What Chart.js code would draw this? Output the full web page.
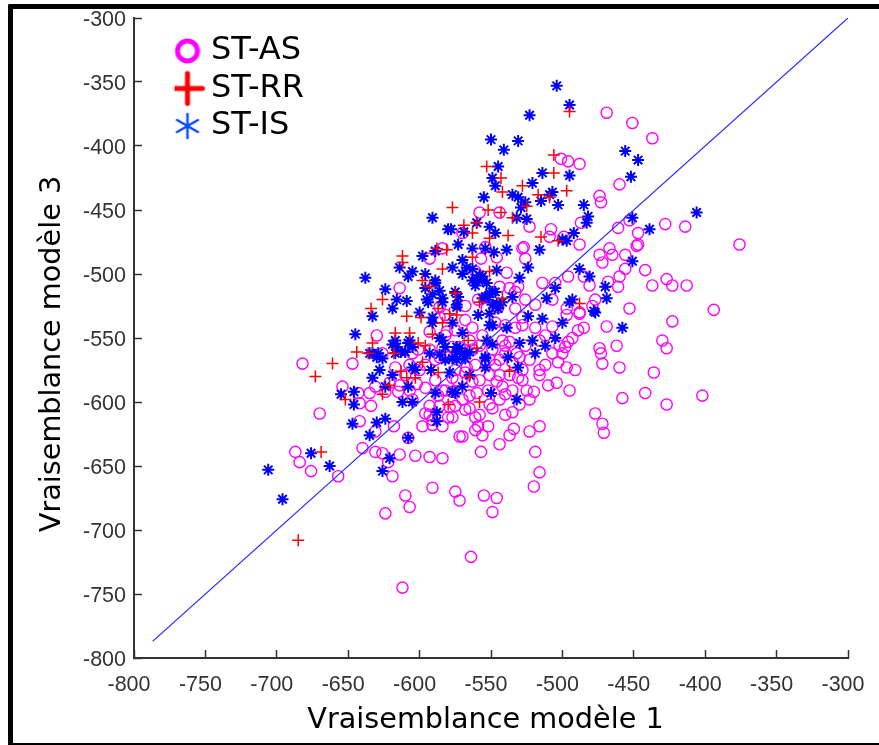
<!DOCTYPE html>
<html>
<head>
<meta charset="utf-8">
<title>Vraisemblance</title>
<script src="https://cdn.jsdelivr.net/npm/chart.js@4/dist/chart.umd.min.js"></script>
<style>
  html, body { margin: 0; padding: 0; background: #fff; }
  #frame {
    position: absolute; left: 8px; top: 4px; width: 871px; height: 741px;
    box-sizing: border-box; overflow: hidden;
    border-left: 5px solid #000; border-top: 5px solid #000; border-bottom: 2px solid #000;
    border-top-left-radius: 2px;
  }
  #chart { position: absolute; left: 0; top: 0; display: block; filter: blur(0.4px); }
</style>
</head>
<body>
<div id="frame"></div>
<canvas id="chart" width="879" height="745"></canvas>
<script>
"use strict";

/* ─── Data as [model 1, model 3] ────────────────────────────── */

const seriesNames = ["ST-AS", "ST-RR", "ST-IS"];
const xTitle = "Vraisemblance modèle 1";
const yTitle = "Vraisemblance modèle 3";
const diagonal = [[-787, -787], [-300, -300]];

const stAS = [
  [-469,-374],[-451,-382],[-437,-394],[-501,-410],[-496,-412],[-488,-414],[-460,-430],[-474,-439],
  [-473,-444],[-453,-458],[-461,-464],[-447,-468],[-447,-477],[-376,-477],[-394,-528],[-414,-463],
  [-428,-461],[-427,-504],[-423,-509],[-413,-509],[-437,-509],[-442,-497],[-423,-537],[-430,-552],
  [-427,-558],[-436,-577],[-442,-593],[-427,-602],[-402,-595],[-458,-597],[-477,-609],[-472,-617],
  [-471,-624],[-527,-479],[-526,-488],[-514,-507],[-496,-502],[-488,-477],[-474,-485],[-467,-480],
  [-465,-485],[-472,-491],[-456,-485],[-448,-478],[-456,-496],[-461,-510],[-460,-502],[-468,-506],
  [-481,-509],[-485,-502],[-453,-527],[-469,-541],[-485,-542],[-462,-556],[-474,-558],[-473,-562],
  [-472,-570],[-460,-573],[-491,-575],[-497,-573],[-503,-569],[-504,-585],[-495,-591],[-520,-592],
  [-516,-575],[-516,-579],[-496,-553],[-498,-557],[-500,-562],[-507,-562],[-519,-524],[-526,-520],
  [-533,-527],[-488,-531],[-497,-532],[-477,-520],[-479,-525],[-497,-527],[-488,-530],[-528,-534],
  [-507,-520],[-505,-507],[-647,-570],[-643,-593],[-635,-593],[-642,-601],[-634,-603],[-642,-615],
  [-624,-592],[-615,-592],[-605,-598],[-593,-603],[-584,-591],[-577,-592],[-574,-583],[-598,-619],
  [-591,-618],[-584,-619],[-593,-610],[-580,-612],[-572,-627],[-618,-619],[-640,-636],[-631,-639],
  [-626,-640],[-614,-641],[-603,-642],[-593,-643],[-584,-644],[-626,-562],[-570,-627],[-556,-626],
  [-552,-619],[-559,-619],[-544,-633],[-557,-639],[-537,-626],[-534,-621],[-523,-623],[-516,-619],
  [-519,-639],[-535,-608],[-549,-605],[-565,-605],[-561,-612],[-525,-591],[-528,-583],[-582,-591],
  [-577,-612],[-579,-604],[-567,-573],[-561,-571],[-577,-581],[-568,-577],[-563,-584],[-542,-588],
  [-546,-584],[-535,-591],[-552,-591],[-560,-593],[-528,-575],[-530,-565],[-544,-567],[-612,-745],
  [-564,-721],[-624,-687],[-610,-673],[-607,-682],[-591,-667],[-619,-658],[-622,-647],[-657,-658],
  [-676,-654],[-684,-647],[-687,-639],[-670,-609],[-631,-623],[-608,-628],[-596,-609],[-591,-614],
  [-682,-570],[-575,-670],[-572,-677],[-555,-673],[-546,-675],[-549,-686],[-516,-655],[-520,-666],
  [-614,-511],[-593,-488],[-584,-480],[-570,-468],[-558,-452],[-544,-452],[-523,-463],[-508,-465],
  [-509,-471],[-499,-471],[-487,-460],[-528,-480],[-546,-487],[-557,-488],[-554,-479],[-561,-498],
  [-539,-499],[-544,-510],[-537,-511],[-531,-510],[-568,-525],[-545,-526],[-553,-527],[-556,-548],
  [-547,-538],[-542,-552],[-537,-553],[-533,-542],[-519,-542],[-528,-540],[-516,-552],[-507,-541],
  [-582,-532],[-563,-542],[-572,-557],[-563,-559],[-584,-558],[-549,-559],[-540,-562],[-532,-562],
  [-586,-526],[-586,-534],[-581,-545],[-593,-545],[-605,-562],[-601,-559],[-577,-557],[-593,-559],
  [-586,-565],[-574,-561],[-630,-548],[-621,-585],[-631,-588],[-596,-589],[-581,-565],[-575,-575],
  [-654,-588],[-602,-586],[-610,-579],[-617,-573],[-596,-571],[-614,-587],[-589,-583],[-607,-591],
  [-565,-595],[-544,-598],[-558,-610],[-540,-610],[-530,-602],[-551,-579],[-537,-579],[-547,-571],
  [-568,-606],[-575,-603],[-586,-603],[-587,-595],[-582,-548],[-575,-544],[-565,-552],[-558,-556],
  [-551,-567],[-540,-556],[-535,-569],[-526,-556],[-523,-567],[-512,-548],[-544,-579],[-558,-583],
  [-570,-598],[-551,-602],[-540,-594],[-531,-581],[-523,-598],[-561,-622],[-512,-571],[-510,-587],
  [-502,-556],[-493,-550],[-489,-544],[-600,-575],[-589,-567],[-607,-571],[-568,-536],[-559,-520],
  [-540,-540],[-533,-514]
];

const stRR = [
  [-495,-373],[-506,-407],[-506,-421],[-497,-435],[-528,-431],[-553,-416],[-543,-425],[-542,-436],
  [-517,-438],[-509,-440],[-525,-447],[-577,-448],[-552,-450],[-543,-452],[-535,-456],[-560,-460],
  [-569,-462],[-563,-468],[-538,-470],[-551,-472],[-515,-471],[-503,-474],[-581,-481],[-588,-480],
  [-612,-486],[-612,-491],[-584,-496],[-551,-498],[-563,-487],[-598,-505],[-593,-510],[-575,-515],
  [-626,-520],[-634,-527],[-609,-533],[-599,-534],[-587,-527],[-579,-531],[-574,-532],[-584,-538],
  [-591,-547],[-617,-546],[-607,-546],[-633,-554],[-644,-561],[-636,-562],[-618,-562],[-601,-554],
  [-596,-556],[-598,-569],[-613,-576],[-609,-581],[-603,-581],[-587,-577],[-621,-587],[-626,-594],
  [-661,-570],[-673,-580],[-652,-598],[-685,-708],[-669,-639],[-558,-522],[-542,-519],[-488,-523],
  [-565,-580],[-537,-576],[-558,-600],[-566,-552],[-560,-558],[-580,-602]
];

const stIS = [
  [-504,-353],[-495,-368],[-523,-376],[-550,-395],[-531,-396],[-541,-403],[-545,-416],[-514,-421],
  [-495,-423],[-521,-429],[-549,-425],[-547,-431],[-555,-440],[-535,-438],[-531,-440],[-507,-436],
  [-509,-438],[-515,-443],[-503,-446],[-485,-446],[-482,-455],[-483,-460],[-529,-448],[-526,-444],
  [-532,-456],[-525,-457],[-591,-456],[-580,-465],[-578,-465],[-569,-467],[-560,-460],[-551,-463],
  [-547,-468],[-573,-477],[-563,-480],[-554,-480],[-548,-483],[-539,-481],[-516,-481],[-500,-473],
  [-497,-474],[-492,-468],[-589,-482],[-598,-486],[-570,-489],[-567,-495],[-577,-495],[-614,-495],
  [-546,-497],[-524,-495],[-570,-500],[-563,-496],[-608,-502],[-605,-498],[-596,-500],[-589,-505],
  [-560,-503],[-556,-502],[-553,-507],[-561,-509],[-530,-503],[-488,-496],[-481,-502],[-451,-490],
  [-451,-456],[-439,-465],[-406,-452],[-456,-404],[-447,-411],[-452,-424],[-638,-503],[-624,-512],
  [-616,-520],[-609,-521],[-619,-527],[-633,-533],[-596,-511],[-595,-520],[-589,-507],[-586,-513],
  [-575,-514],[-584,-522],[-574,-526],[-600,-530],[-591,-534],[-591,-538],[-552,-518],[-549,-514],
  [-556,-519],[-546,-523],[-551,-531],[-535,-518],[-511,-519],[-505,-511],[-495,-522],[-493,-520],
  [-477,-530],[-470,-510],[-469,-519],[-524,-533],[-514,-535],[-559,-532],[-645,-547],[-655,-594],
  [-646,-592],[-646,-602],[-647,-617],[-630,-616],[-624,-613],[-635,-626],[-621,-644],[-626,-654],
  [-608,-628],[-676,-640],[-663,-650],[-706,-653],[-696,-676],[-617,-552],[-616,-557],[-619,-555],
  [-613,-561],[-617,-562],[-607,-552],[-605,-557],[-608,-554],[-610,-561],[-630,-565],[-633,-562],
  [-626,-566],[-633,-581],[-628,-575],[-619,-579],[-605,-573],[-603,-575],[-608,-588],[-592,-575],
  [-589,-593],[-612,-600],[-605,-600],[-588,-608],[-588,-615],[-586,-550],[-584,-552],[-577,-538],
  [-584,-519],[-591,-516],[-594,-522],[-635,-562],[-624,-588],[-629,-562],[-593,-562],[-586,-563],
  [-575,-593],[-579,-577],[-574,-567],[-570,-562],[-574,-561],[-565,-561],[-577,-566],[-572,-558],
  [-568,-566],[-582,-567],[-554,-566],[-554,-573],[-538,-565],[-531,-573],[-565,-579],[-570,-588],
  [-577,-592],[-550,-593],[-532,-598],[-519,-562],[-573,-518],[-574,-524],[-558,-501],[-556,-505],
  [-563,-505],[-554,-518],[-551,-515],[-547,-514],[-549,-524],[-542,-522],[-545,-527],[-549,-540],
  [-549,-555],[-554,-565],[-539,-542],[-530,-554],[-521,-552],[-512,-556],[-505,-550],[-500,-538],
  [-458,-542],[-478,-529],[-570,-546],[-574,-557],[-582,-557],[-553,-552],[-551,-540]
];

/* Marker look for the legend, a size the plot markers cannot share */
function legendIcon(draw) {
  const c = document.createElement("canvas");
  c.width = 40;
  c.height = 40;
  const g = c.getContext("2d");
  g.translate(20, 20);
  g.lineCap = "round";
  draw(g);
  return c;
}

const iconAS = legendIcon(function (g) {
  g.strokeStyle = "#ff00ff";
  g.lineWidth = 5;
  g.beginPath();
  g.arc(0, 0, 10, 0, Math.PI * 2);
  g.stroke();
});

const iconRR = legendIcon(function (g) {
  g.strokeStyle = "#ff0000";
  g.lineWidth = 5;
  g.beginPath();
  g.moveTo(-15, 0);
  g.lineTo(15, 0);
  g.moveTo(0, -15);
  g.lineTo(0, 15);
  g.stroke();
});

const iconIS = legendIcon(function (g) {
  g.strokeStyle = "#0a4cff";
  g.lineWidth = 2.5;
  g.beginPath();
  [90, 30, -30].forEach(function (a) {
    const dx = Math.cos(a * Math.PI / 180) * 12;
    const dy = Math.sin(a * Math.PI / 180) * 12;
    g.moveTo(-dx, -dy);
    g.lineTo(dx, dy);
  });
  g.stroke();
});

/* Moves the legend into place and writes the off-centre axis titles */
const figureLayout = {
  id: "figureLayout",
  afterLayout: function (chart) {
    chart.legend.left = 174.5;
    chart.legend.top = 29.5;
  },
  afterDraw: function (chart) {
    const ctx = chart.ctx;
    ctx.save();
    ctx.fillStyle = "#000";
    ctx.font = '28.7px "DejaVu Sans"';
    ctx.textAlign = "center";
    ctx.textBaseline = "middle";
    ctx.fillText(xTitle, 485.5, 721);
    ctx.translate(53, 354);
    ctx.rotate(-Math.PI / 2);
    ctx.fillText(yTitle, 0, 0);
    ctx.restore();
  },
};

function toPoints(pairs) {
  return pairs.map(function (p) {
    return { x: p[0], y: p[1] };
  });
}

/* Fixed axis box, without the room Chart.js keeps for the end labels */
function fixAxisBox(scale) {
  if (scale.axis === "x") {
    scale.height = 87;
  } else {
    scale.width = 134;
  }
  scale.paddingLeft = 0;
  scale.paddingRight = 0;
  scale.paddingTop = 0;
  scale.paddingBottom = 0;
}

const axisColor = "#333333";
const tickFont = { family: '"Liberation Sans"', size: 21.5 };

new Chart(document.getElementById("chart"), {
  type: "scatter",
  plugins: [figureLayout],
  data: {
    datasets: [
      {
        label: seriesNames[0],
        data: toPoints(stAS),
        order: 4,
        pointStyle: "circle",
        pointRadius: 5.6,
        pointBorderWidth: 1.4,
        pointBorderColor: "#ff00ff",
        pointBackgroundColor: "transparent",
      },
      {
        label: seriesNames[1],
        data: toPoints(stRR),
        order: 2,
        pointStyle: "cross",
        pointRadius: 6,
        pointBorderWidth: 1.5,
        pointBorderColor: "#ff0000",
      },
      {
        label: seriesNames[2],
        data: toPoints(stIS),
        order: 3,
        pointStyle: "star",
        pointRadius: 6,
        pointBorderWidth: 2,
        pointBorderColor: "#0000ff",
      },
      {
        label: "diagonale",
        data: toPoints(diagonal),
        order: 1,
        showLine: true,
        pointRadius: 0,
        borderColor: "#2a2aff",
        borderWidth: 1.3,
      },
    ],
  },
  options: {
    responsive: false,
    animation: false,
    layout: { autoPadding: false, padding: { top: 18, right: 31, left: 0, bottom: 0 } },
    plugins: {
      tooltip: { enabled: false },
      legend: {
        position: "chartArea",
        align: "start",
        labels: {
          color: "#000",
          font: { family: '"DejaVu Sans"', size: 32 },
          padding: 5.5,
          usePointStyle: true,
          pointStyleWidth: 15,
          generateLabels: function () {
            return [iconAS, iconRR, iconIS].map(function (icon, i) {
              return { text: seriesNames[i], pointStyle: icon, datasetIndex: i, lineWidth: 0 };
            });
          },
        },
      },
    },
    scales: {
      x: {
        type: "linear",
        min: -800,
        max: -300,
        afterFit: fixAxisBox,
        grid: { drawOnChartArea: false, tickLength: -8, tickColor: axisColor, tickWidth: 1.5 },
        border: { color: axisColor, width: 2 },
        ticks: {
          stepSize: 50, autoSkip: false, maxRotation: 0, color: axisColor,
          font: tickFont, padding: 22, labelOffset: -5,
        },
      },
      y: {
        type: "linear",
        min: -800,
        max: -300,
        afterFit: fixAxisBox,
        grid: { drawOnChartArea: false, tickLength: -8, tickColor: axisColor, tickWidth: 1.5 },
        border: { color: axisColor, width: 2 },
        ticks: {
          stepSize: 50, autoSkip: false, color: axisColor,
          font: tickFont, padding: 16, labelOffset: 2.5,
        },
      },
    },
  },
});
</script>
</body>
</html>
